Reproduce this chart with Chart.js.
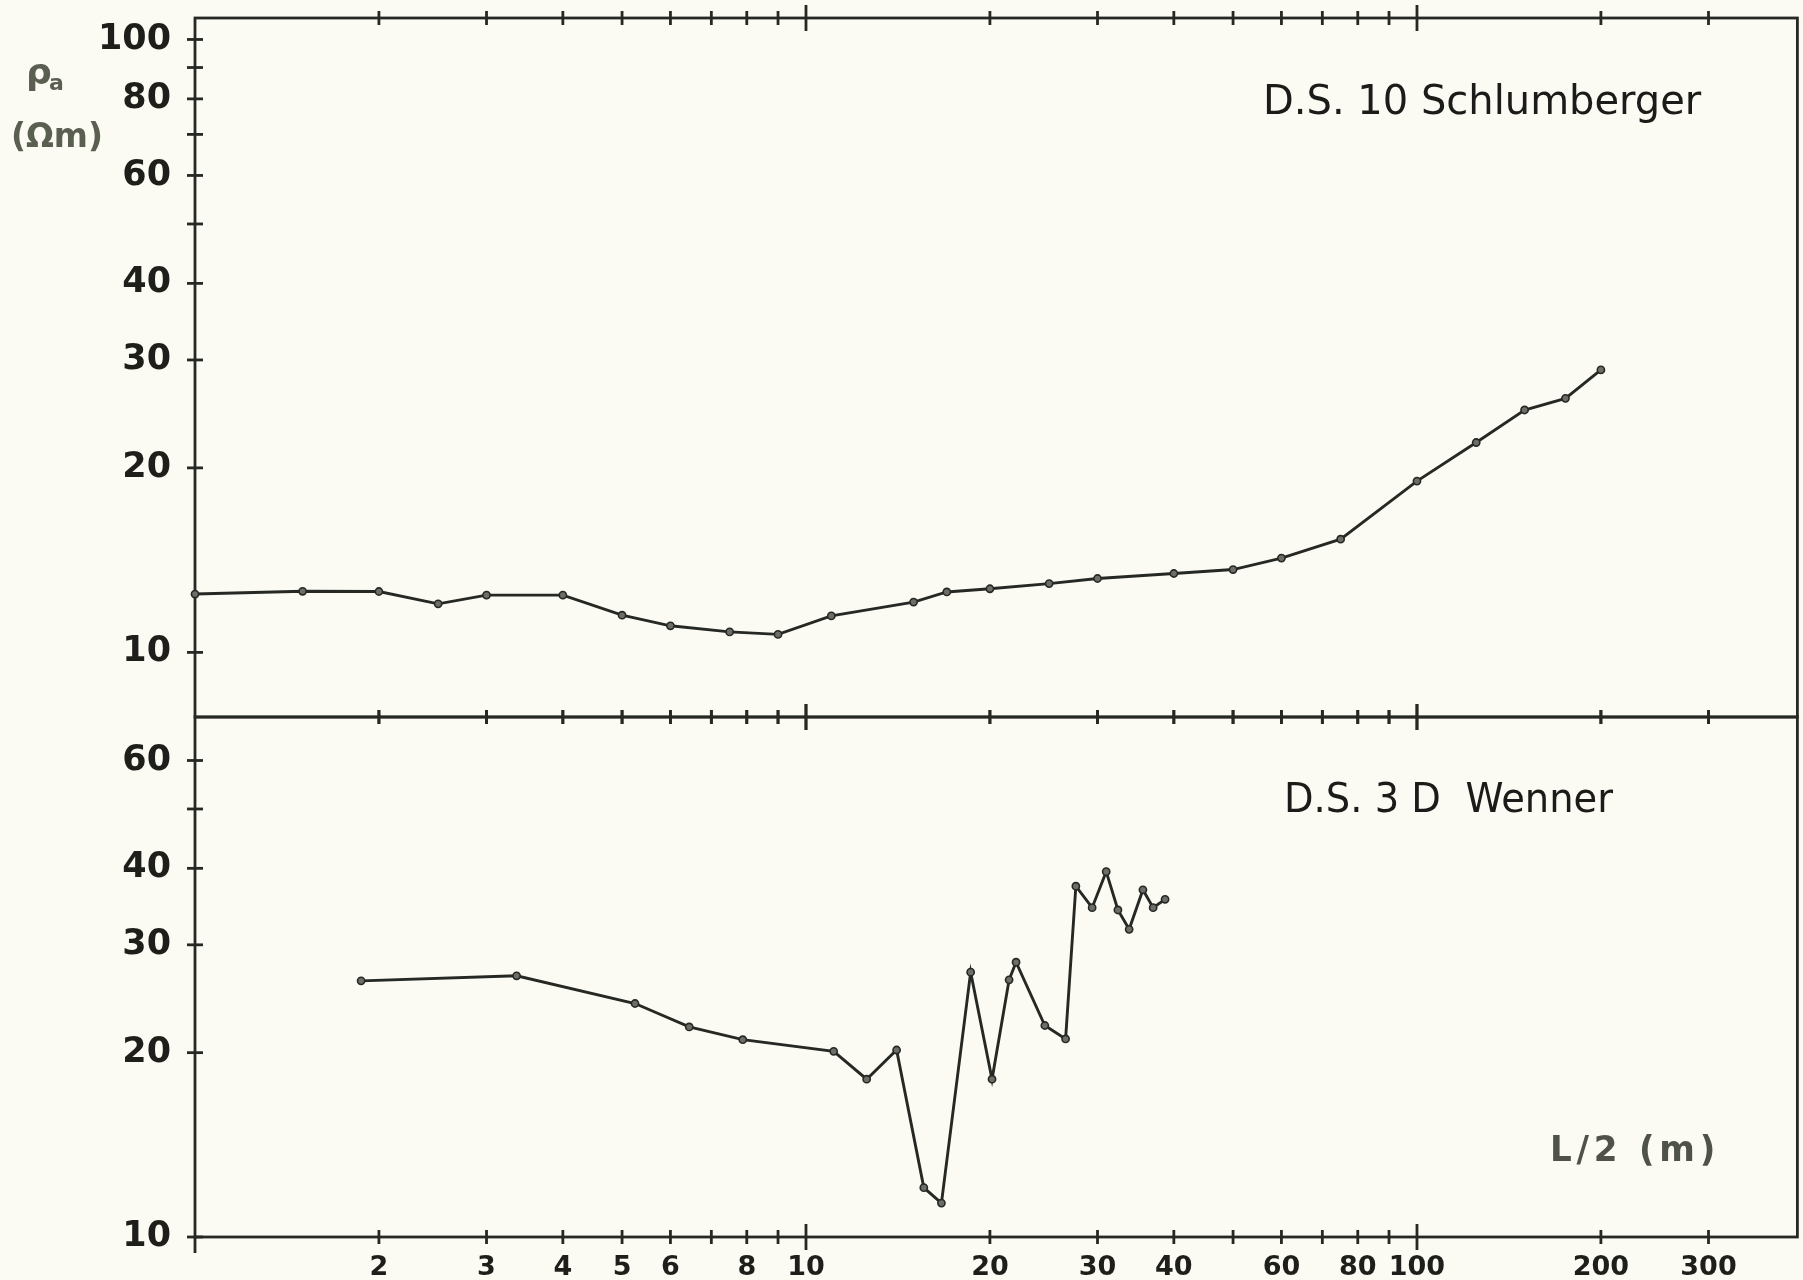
<!DOCTYPE html>
<html><head><meta charset="utf-8">
<script src="https://cdn.jsdelivr.net/npm/chart.js@4.4.1/dist/chart.umd.min.js"></script>
<style>
html,body{margin:0;padding:0;background:#fbfbf3;}
#wrap{position:relative;width:1803px;height:1280px;overflow:hidden;background:#fbfbf3;}
canvas{position:absolute;left:0;top:0;}
</style></head><body>
<div id="wrap"><canvas id="topChart" width="1803" height="1280"></canvas><canvas id="botChart" width="1803" height="1280"></canvas></div>
<script>
// ---- data ----
const schlumbergerSpacing = [1, 1.5, 2, 2.5, 3, 4, 5, 6, 7.5, 9, 11, 15, 17, 20, 25, 30, 40, 50, 60, 75, 100, 125, 150, 175, 200];
const schlumbergerRho     = [12.45, 12.58, 12.57, 12.0, 12.4, 12.4, 11.5, 11.05, 10.8, 10.7, 11.47, 12.08, 12.55, 12.7, 12.95, 13.2, 13.45, 13.65, 14.25, 15.3, 19.03, 22.0, 24.86, 25.97, 28.9];
const wennerSpacing = [1.87, 3.36, 5.25, 6.44, 7.88, 11.1, 12.57, 14.07, 15.59, 16.66, 18.6, 20.16, 21.5, 22.07, 24.6, 26.6, 27.65, 29.4, 31.0, 32.4, 33.8, 35.6, 37.0, 38.7];
const wennerRho     = [26.2, 26.7, 24.06, 22.03, 21.0, 20.1, 18.1, 20.2, 12.04, 11.36, 27.07, 18.1, 26.3, 28.1, 22.15, 21.06, 37.4, 34.5, 39.5, 34.2, 31.8, 36.9, 34.5, 35.6];

// ---- tick labels / tick marks ----
const xTickLabels = [2, 3, 4, 5, 6, 8, 10, 20, 30, 40, 60, 80, 100, 200, 300];
const xMinorTicks = [2, 3, 4, 5, 6, 7, 8, 9, 20, 30, 40, 50, 60, 70, 80, 90, 200, 300];
const xMajorTicks = [10, 100];
const topYTickLabels = [10, 20, 30, 40, 60, 80, 100];
const topYTickMarks  = [10, 20, 30, 40, 50, 60, 70, 80, 90, 100];
const botYTickLabels = [10, 20, 30, 40, 60];
const botYTickMarks  = [10, 20, 30, 40, 50, 60];

const INK = '#262824';
const FONT = '"DejaVu Sans", "Liberation Sans", sans-serif';

const framePlugin = {
  id: 'frame',
  beforeDatasetsDraw(chart, args, o) {
    const ctx = chart.ctx, a = chart.chartArea, xs = chart.scales.x, ys = chart.scales.y;
    ctx.save();
    ctx.strokeStyle = INK; ctx.lineWidth = 2.8; ctx.lineCap = 'butt';
    ctx.strokeRect(a.left, a.top, a.right - a.left, a.bottom - a.top);
    const line = (x1, y1, x2, y2) => { ctx.beginPath(); ctx.moveTo(x1, y1); ctx.lineTo(x2, y2); ctx.stroke(); };
    [a.top, a.bottom].forEach(ey => {
      xMinorTicks.forEach(v => { const px = xs.getPixelForValue(v); line(px, ey - 7, px, ey + 7); });
      xMajorTicks.forEach(v => { const px = xs.getPixelForValue(v); line(px, ey - 13, px, ey + 13); });
    });
    o.yMarks.forEach(v => { const py = ys.getPixelForValue(v); line(a.left - 8, py, a.left + 8, py); });
    if (o.extendAxis) { line(a.left, a.bottom, a.left, a.bottom + 16); }
    o.texts.forEach(t => {
      ctx.font = t.font; ctx.fillStyle = t.color; ctx.textAlign = 'left'; ctx.textBaseline = 'alphabetic';
      ctx.letterSpacing = t.spacing || '0px';
      ctx.fillText(t.text, t.x, t.y, t.maxWidth);
    });
    ctx.letterSpacing = '0px';
    ctx.restore();
  }
};

const noPad = s => { s.paddingTop = 0; s.paddingBottom = 0; s.paddingLeft = 0; s.paddingRight = 0; };

function makeChart(id, xs, ys, yMin, yMax, yLabels, yMarks, pad, showX, texts, extendAxis) {
  return new Chart(document.getElementById(id), {
    type: 'line',
    data: { datasets: [{
      data: xs.map((x, i) => ({ x: x, y: ys[i] })),
      borderColor: INK, borderWidth: 2.9, tension: 0, clip: false,
      pointRadius: 3.6, pointBackgroundColor: '#6d6e68', pointBorderColor: INK, pointBorderWidth: 1.6
    }]},
    plugins: [framePlugin],
    options: {
      responsive: false, animation: false, devicePixelRatio: 1,
      layout: { padding: pad },
      plugins: { legend: { display: false }, tooltip: { enabled: false },
        frame: { yMarks: yMarks, texts: texts, extendAxis: extendAxis } },
      scales: {
        x: {
          type: 'logarithmic', min: 1, max: 419.4,
          afterFit: s => { s.height = showX ? 43 : 0; noPad(s); },
          afterBuildTicks: s => { s.ticks = xTickLabels.map(v => ({ value: v })); },
          ticks: { display: showX, autoSkip: false, maxRotation: 0, padding: 15,
            font: { family: FONT, weight: 'bold', size: 27 }, color: '#1e1f1b', callback: v => String(v) },
          grid: { display: false, drawTicks: false }, border: { display: false }
        },
        y: {
          type: 'logarithmic', min: yMin, max: yMax,
          afterFit: s => { s.width = 195; noPad(s); },
          afterBuildTicks: s => { s.ticks = yLabels.map(v => ({ value: v })); },
          ticks: { autoSkip: false, padding: 24,
            font: { family: FONT, weight: 'bold', size: 35 }, color: '#1e1f1b', callback: v => String(v) },
          grid: { display: false, drawTicks: false }, border: { display: false }
        }
      }
    }
  });
}

makeChart('topChart', schlumbergerSpacing, schlumbergerRho, 7.845, 108.4, topYTickLabels, topYTickMarks,
  { top: 18, right: 3, bottom: 1280 - 717, left: 0 }, false, [
    { text: 'D.S. 10 Schlumberger', x: 1263, y: 114, font: '40px ' + FONT, color: '#1b1c19', maxWidth: 442 },
    { text: 'ρ', x: 26, y: 84, font: 'bold 36px ' + FONT, color: '#5a5f52' },
    { text: 'a', x: 49, y: 90, font: 'bold 22px ' + FONT, color: '#5a5f52' },
    { text: '(Ωm)', x: 11, y: 147, font: 'bold 34px ' + FONT, color: '#5a5f52', maxWidth: 92 }
  ], false);

makeChart('botChart', wennerSpacing, wennerRho, 10, 70.66, botYTickLabels, botYTickMarks,
  { top: 717, right: 3, bottom: 0, left: 0 }, true, [
    { text: 'D.S. 3 D  Wenner', x: 1284, y: 812, font: '40px ' + FONT, color: '#1b1c19', maxWidth: 329 },
    { text: 'L/2 (m)', x: 1550, y: 1161, font: 'bold 36px ' + FONT, color: '#4f5249', spacing: '5px', maxWidth: 170 }
  ], true);
</script>
</body></html>
